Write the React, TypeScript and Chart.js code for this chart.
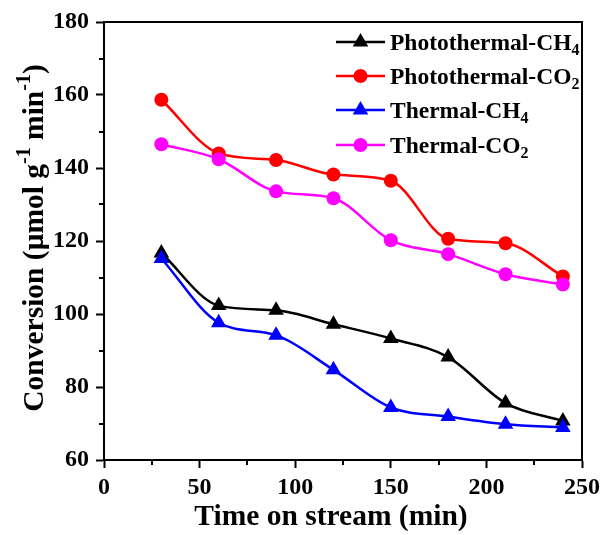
import React, { useEffect, useRef } from "react";
import { Chart, registerables } from "chart.js";

Chart.register(...registerables);

// Time on stream (min)
const times = [30, 60, 90, 120, 150, 180, 210, 240];

// Conversion rates (µmol g^-1 min^-1)
const photothermalCH4 = [116.7, 102.3, 101.0, 97.2, 93.3, 88.2, 75.6, 70.7];
const photothermalCO2 = [158.7, 144.0, 142.2, 138.2, 136.5, 120.6, 119.4, 110.3];
const thermalCH4 = [115.2, 97.6, 94.2, 84.7, 74.4, 71.9, 69.8, 68.9];
const thermalCO2 = [146.5, 142.4, 133.6, 131.7, 120.2, 116.4, 110.9, 108.1];

const xTicks = [0, 50, 100, 150, 200, 250];
const yTicks = [60, 80, 100, 120, 140, 160, 180];
const xMinorTicks = [25, 75, 125, 175, 225];
const yMinorTicks = [70, 90, 110, 130, 150, 170];

const FONT = "'Liberation Serif', 'Times New Roman', serif";

type Series = {
  name: string;
  sub: string;
  color: string;
  style: "triangle" | "circle";
  values: number[];
};

const series: Series[] = [
  { name: "Photothermal-CH", sub: "4", color: "#000000", style: "triangle", values: photothermalCH4 },
  { name: "Photothermal-CO", sub: "2", color: "#ff0000", style: "circle", values: photothermalCO2 },
  { name: "Thermal-CH", sub: "4", color: "#0000ff", style: "triangle", values: thermalCH4 },
  { name: "Thermal-CO", sub: "2", color: "#ff00ff", style: "circle", values: thermalCO2 },
];

function drawMarker(ctx: CanvasRenderingContext2D, style: string, x: number, y: number, color: string) {
  ctx.fillStyle = color;
  ctx.beginPath();
  if (style === "circle") {
    ctx.arc(x, y, 7, 0, Math.PI * 2);
  } else {
    const r = 9;
    ctx.moveTo(x, y - r);
    ctx.lineTo(x + r * Math.cos(Math.PI / 6), y + r * 0.5);
    ctx.lineTo(x - r * Math.cos(Math.PI / 6), y + r * 0.5);
    ctx.closePath();
  }
  ctx.fill();
}

const decorations = {
  id: "decorations",
  afterDraw(chart: any) {
    const ctx: CanvasRenderingContext2D = chart.ctx;
    const { left, right, top, bottom } = chart.chartArea;
    const xs = chart.scales.x;
    const ys = chart.scales.y;
    ctx.save();

    // frame on the top and right sides
    ctx.strokeStyle = "#000";
    ctx.lineWidth = 2;
    ctx.beginPath();
    ctx.moveTo(left - 1, top);
    ctx.lineTo(right, top);
    ctx.lineTo(right, bottom + 1);
    ctx.stroke();

    // minor ticks, pointing outward
    ctx.beginPath();
    for (const v of yMinorTicks) {
      const y = Math.round(ys.getPixelForValue(v));
      ctx.moveTo(left - 5, y);
      ctx.lineTo(left, y);
    }
    for (const v of xMinorTicks) {
      const x = Math.round(xs.getPixelForValue(v));
      ctx.moveTo(x, bottom);
      ctx.lineTo(x, bottom + 5);
    }
    ctx.stroke();

    // legend
    const rows = [42, 76, 110, 145];
    series.forEach((s, i) => {
      const y = rows[i];
      ctx.strokeStyle = s.color;
      ctx.lineWidth = 2.5;
      ctx.beginPath();
      ctx.moveTo(336, y);
      ctx.lineTo(385, y);
      ctx.stroke();
      drawMarker(ctx, s.style, 360.5, y, s.color);
      ctx.fillStyle = "#000";
      ctx.textBaseline = "alphabetic";
      ctx.textAlign = "left";
      ctx.font = `bold 23.5px ${FONT}`;
      const tx = 390;
      const base = y + 8;
      ctx.fillText(s.name, tx, base);
      const w = ctx.measureText(s.name).width;
      ctx.font = `bold 16px ${FONT}`;
      ctx.fillText(s.sub, tx + w, base + 5);
    });

    // x axis title
    ctx.fillStyle = "#000";
    ctx.font = `bold 29.5px ${FONT}`;
    ctx.textAlign = "center";
    ctx.textBaseline = "alphabetic";
    ctx.fillText("Time on stream (min)", 331, 525);

    // y axis title with superscripts
    ctx.save();
    ctx.translate(43, 238);
    ctx.rotate(-Math.PI / 2);
    const parts: [string, boolean][] = [
      ["Conversion (\u03bcmol g", false],
      ["-1", true],
      [" min", false],
      ["-1", true],
      [")", false],
    ];
    let total = 0;
    for (const [t, sup] of parts) {
      ctx.font = sup ? `bold 20px ${FONT}` : `bold 29.5px ${FONT}`;
      total += ctx.measureText(t).width;
    }
    let cx = -total / 2;
    ctx.textAlign = "left";
    for (const [t, sup] of parts) {
      ctx.font = sup ? `bold 20px ${FONT}` : `bold 29.5px ${FONT}`;
      ctx.fillText(t, cx, sup ? -13 : 0);
      cx += ctx.measureText(t).width;
    }
    ctx.restore();

    ctx.restore();
  },
};

export default function App() {
  const ref = useRef<HTMLCanvasElement | null>(null);

  useEffect(() => {
    if (!ref.current) return;
    const drawOrder = [3, 2, 1, 0];
    const chart = new Chart(ref.current, {
      type: "line",
      data: {
        datasets: series.map((s, i) => ({
          label: s.name + s.sub,
          data: times.map((t, j) => ({ x: t, y: s.values[j] })),
          borderColor: s.color,
          backgroundColor: s.color,
          borderWidth: 2.5,
          pointStyle: s.style,
          pointRadius: s.style === "circle" ? 7 : 9,
          pointBorderWidth: 0,
          pointBackgroundColor: s.color,
          cubicInterpolationMode: "monotone" as const,
          fill: false,
          order: drawOrder[i],
          clip: false as any,
        })),
      },
      options: {
        responsive: false,
        animation: false,
        devicePixelRatio: 1,
        layout: { padding: { top: 22, right: 24, left: 0, bottom: 0 } },
        plugins: {
          legend: { display: false },
          tooltip: { enabled: false },
        },
        scales: {
          x: {
            type: "linear",
            min: 0,
            max: 250,
            afterFit: (s: any) => {
              s.height = 75;
            },
            afterBuildTicks: (s: any) => {
              s.ticks = xTicks.map((v) => ({ value: v }));
            },
            ticks: {
              color: "#000",
              font: { family: FONT, size: 24, weight: "bold" },
              padding: 5,
              maxRotation: 0,
            },
            grid: {
              drawOnChartArea: false,
              drawTicks: true,
              tickLength: 8,
              tickWidth: 2,
              tickColor: "#000",
            },
            border: { display: true, color: "#000", width: 2 },
          },
          y: {
            type: "linear",
            min: 60,
            max: 180,
            afterFit: (s: any) => {
              s.width = 104;
            },
            afterBuildTicks: (s: any) => {
              s.ticks = yTicks.map((v) => ({ value: v }));
            },
            ticks: {
              color: "#000",
              font: { family: FONT, size: 24, weight: "bold" },
              padding: 7,
            },
            grid: {
              drawOnChartArea: false,
              drawTicks: true,
              tickLength: 8,
              tickWidth: 2,
              tickColor: "#000",
            },
            border: { display: true, color: "#000", width: 2 },
          },
        },
      },
      plugins: [decorations],
    });
    return () => chart.destroy();
  }, []);

  return (
    <div style={{ position: "absolute", left: 0, top: 0, width: 606, height: 535, background: "#fff" }}>
      <canvas ref={ref} width={606} height={535} style={{ width: 606, height: 535 }} />
    </div>
  );
}
